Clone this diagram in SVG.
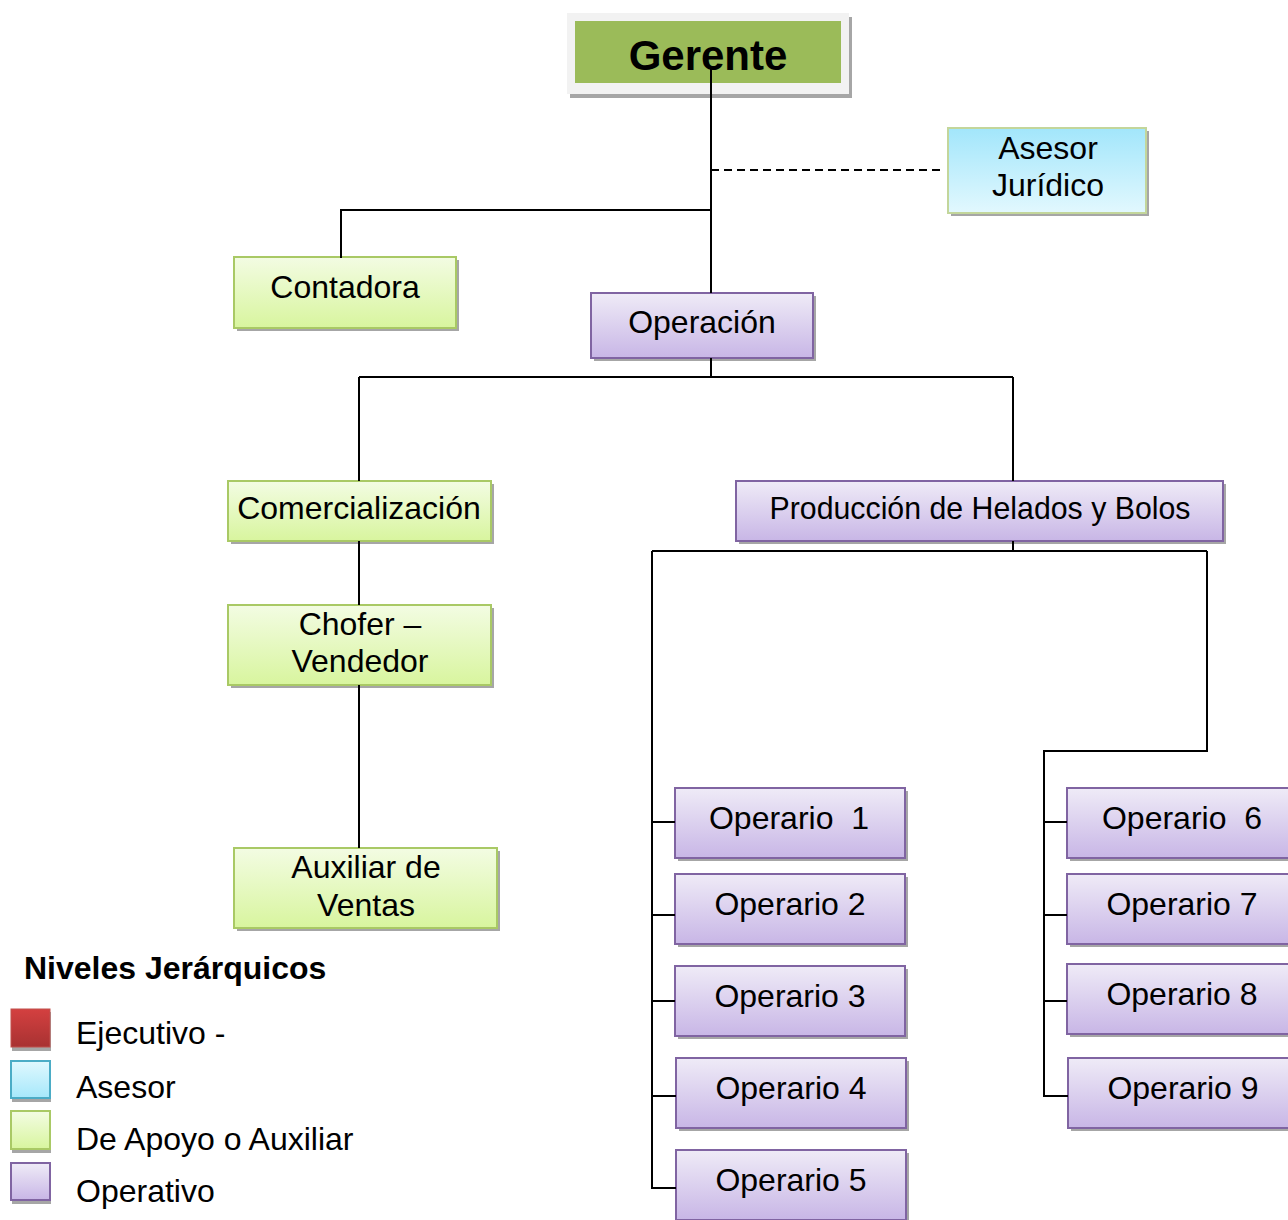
<svg xmlns="http://www.w3.org/2000/svg" width="1288" height="1220" viewBox="0 0 1288 1220">
<defs>
<linearGradient id="gGreen" x1="0" y1="0" x2="0" y2="1"><stop offset="0" stop-color="#f3fce3"/><stop offset="1" stop-color="#d8f59e"/></linearGradient>
<linearGradient id="gPurple" x1="0" y1="0" x2="0" y2="1"><stop offset="0" stop-color="#efebf7"/><stop offset="1" stop-color="#c8b6e6"/></linearGradient>
<linearGradient id="gBlue" x1="0" y1="0" x2="0" y2="1"><stop offset="0" stop-color="#a2e6fb"/><stop offset="1" stop-color="#e2f8fe"/></linearGradient>
<linearGradient id="gRed" x1="0" y1="0" x2="0" y2="1"><stop offset="0" stop-color="#d44040"/><stop offset="1" stop-color="#a83232"/></linearGradient>
<linearGradient id="gLBlue" x1="0" y1="0" x2="0" y2="1"><stop offset="0" stop-color="#e0f8fe"/><stop offset="1" stop-color="#a6e8fb"/></linearGradient>
</defs>
<style>
text{font-family:"Liberation Sans",Arial,sans-serif;fill:#000}
.t{font-size:32px;text-anchor:middle}
.sh{fill:#a6a6a6}
.gr{fill:url(#gGreen);stroke:#a9c965;stroke-width:2}
.pu{fill:url(#gPurple);stroke:#8064a2;stroke-width:2}
.bl{fill:url(#gBlue);stroke:#c3d69b;stroke-width:2}
.ln{fill:none;stroke:#000;stroke-width:2}
</style>
<rect width="1288" height="1220" fill="#fff"/>
<g id="gerente">
<rect x="570" y="17" width="282" height="81" class="sh"/>
<rect x="567" y="13" width="282" height="81" fill="#f2f2f2"/>
<rect x="575" y="21" width="266" height="62" fill="#9bbb59"/>
<text x="708" y="70" font-size="42" font-weight="bold" text-anchor="middle">Gerente</text>
</g>
<g id="asesor">
<rect x="951" y="131" width="198" height="85" class="sh"/>
<rect x="948" y="128" width="198" height="85" class="bl"/>
<text x="1048" y="159" class="t">Asesor</text>
<text x="1048" y="196" class="t">Jurídico</text>
</g>
<g id="contadora">
<rect x="237" y="260" width="222" height="71" class="sh"/>
<rect x="234" y="257" width="222" height="71" class="gr"/>
<text x="345" y="298" class="t">Contadora</text>
</g>
<g id="operacion">
<rect x="594" y="296" width="222" height="65" class="sh"/>
<rect x="591" y="293" width="222" height="65" class="pu"/>
<text x="702" y="333" class="t">Operación</text>
</g>
<g id="comercializacion">
<rect x="231" y="484" width="263" height="60" class="sh"/>
<rect x="228" y="481" width="263" height="60" class="gr"/>
<text x="359" y="519" class="t">Comercialización</text>
</g>
<g id="produccion">
<rect x="739" y="484" width="487" height="60" class="sh"/>
<rect x="736" y="481" width="487" height="60" class="pu"/>
<text x="980" y="519" class="t" textLength="421" lengthAdjust="spacingAndGlyphs">Producción de Helados y Bolos</text>
</g>
<g id="chofer">
<rect x="231" y="608" width="263" height="80" class="sh"/>
<rect x="228" y="605" width="263" height="80" class="gr"/>
<text x="360" y="635" class="t">Chofer –</text>
<text x="360" y="672" class="t">Vendedor</text>
</g>
<g id="auxiliar">
<rect x="237" y="851" width="263" height="80" class="sh"/>
<rect x="234" y="848" width="263" height="80" class="gr"/>
<text x="366" y="878" class="t">Auxiliar de</text>
<text x="366" y="916" class="t">Ventas</text>
</g>
<g id="operario1">
<rect x="678" y="791" width="230" height="70" class="sh"/>
<rect x="675" y="788" width="230" height="70" class="pu"/>
<text x="789" y="829" class="t" xml:space="preserve">Operario  1</text>
</g>
<g id="operario2">
<rect x="678" y="877" width="230" height="70" class="sh"/>
<rect x="675" y="874" width="230" height="70" class="pu"/>
<text x="790" y="915" class="t">Operario 2</text>
</g>
<g id="operario3">
<rect x="678" y="969" width="230" height="70" class="sh"/>
<rect x="675" y="966" width="230" height="70" class="pu"/>
<text x="790" y="1007" class="t">Operario 3</text>
</g>
<g id="operario4">
<rect x="679" y="1061" width="230" height="70" class="sh"/>
<rect x="676" y="1058" width="230" height="70" class="pu"/>
<text x="791" y="1099" class="t">Operario 4</text>
</g>
<g id="operario5">
<rect x="679" y="1153" width="230" height="70" class="sh"/>
<rect x="676" y="1150" width="230" height="70" class="pu"/>
<text x="791" y="1191" class="t">Operario 5</text>
</g>
<g id="operario6">
<rect x="1070" y="791" width="230" height="70" class="sh"/>
<rect x="1067" y="788" width="230" height="70" class="pu"/>
<text x="1182" y="829" class="t" xml:space="preserve">Operario  6</text>
</g>
<g id="operario7">
<rect x="1070" y="877" width="230" height="70" class="sh"/>
<rect x="1067" y="874" width="230" height="70" class="pu"/>
<text x="1182" y="915" class="t">Operario 7</text>
</g>
<g id="operario8">
<rect x="1070" y="967" width="230" height="70" class="sh"/>
<rect x="1067" y="964" width="230" height="70" class="pu"/>
<text x="1182" y="1005" class="t">Operario 8</text>
</g>
<g id="operario9">
<rect x="1071" y="1061" width="230" height="70" class="sh"/>
<rect x="1068" y="1058" width="230" height="70" class="pu"/>
<text x="1183" y="1099" class="t">Operario 9</text>
</g>
<g id="legend">
<text x="24" y="979" font-size="32" font-weight="bold">Niveles Jerárquicos</text>
<rect x="12" y="1012" width="39" height="39" class="sh"/>
<rect x="11" y="1009" width="39" height="38" fill="url(#gRed)" stroke="#c0504d" stroke-width="1"/>
<rect x="12" y="1064" width="39" height="38" class="sh"/>
<rect x="11" y="1061" width="39" height="37" fill="url(#gLBlue)" stroke="#4bacc6" stroke-width="2"/>
<rect x="12" y="1114" width="39" height="39" class="sh"/>
<rect x="11" y="1111" width="39" height="38" class="gr"/>
<rect x="12" y="1166" width="39" height="38" class="sh"/>
<rect x="11" y="1163" width="39" height="37" class="pu"/>
<text x="76" y="1044" font-size="32">Ejecutivo -</text>
<text x="76" y="1098" font-size="32">Asesor</text>
<text x="76" y="1150" font-size="32">De Apoyo o Auxiliar</text>
<text x="76" y="1202" font-size="32">Operativo</text>
</g>
<g id="connectors">
<path class="ln" d="M711 67 V293"/>
<path class="ln" d="M711 170 H942" stroke-dasharray="8,5"/>
<path class="ln" d="M711 210 H341 V258"/>
<path class="ln" d="M711 358 V377 M359 377 H1013 M359 377 V481 M1013 377 V481"/>
<path class="ln" d="M359 541 V605 M359 685 V848"/>
<path class="ln" d="M1013 541 V551 M652 551 H1207 M652 551 V1188 H676 M1207 551 V751 H1044 V1096 H1068"/>
<path class="ln" d="M652 822 H675 M652 915 H675 M652 1001 H675 M652 1096 H676"/>
<path class="ln" d="M1044 822 H1067 M1044 915 H1067 M1044 1001 H1067"/>
</g>
</svg>
